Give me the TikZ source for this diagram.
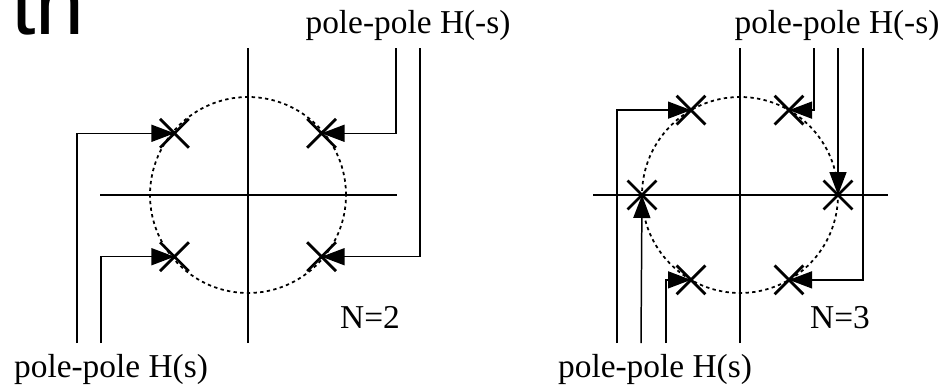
\documentclass[tikz,border=0pt]{standalone}
\usepackage{fontspec}
\setmainfont{Liberation Serif}
\newfontfamily\headfont{Liberation Sans}
\usetikzlibrary{positioning,arrows.meta,calc,shapes.misc}

\begin{document}
\begin{tikzpicture}[
  x=0.02cm, y=0.02cm,
  font=\fontsize{19}{22}\selectfont,
  axis/.style={line width=0.85pt},
  polecircle/.style={line width=1pt, dash pattern=on 1.9pt off 1.9pt},
  pole/.style={cross out, draw, line width=1.6pt, minimum size=0.52cm, inner sep=0pt},
  arrow/.style={-{Triangle[length=0.46cm, width=0.34cm]}, line width=0.85pt},
  caption/.style={anchor=base, inner sep=0pt}
]
\useasboundingbox (0,0) rectangle (944,387);

% Cropped heading
\node[anchor=base west, inner sep=0pt, font=\headfont\fontsize{50}{56}\selectfont] (head) at (11,353) {th};

% ---- N=2 ----
\coordinate (o2) at (248,192);
\draw[axis] (o2) ++(-148,0) -- ++(297,0);
\draw[axis] (248,44) -- (248,339);
\draw[polecircle] (o2) circle (98);

% Poles
\node[pole] (p1) at ($(o2)+(140:96)$) {};
\node[pole] (p2) at ($(o2)+(40:96)$) {};
\node[pole] (p3) at ($(o2)+(220:96)$) {};
\node[pole] (p4) at ($(o2)+(320:96)$) {};

% Feed lines
\coordinate (a1) at (77,44);
\coordinate (a2) at (101,44);
\coordinate (b1) at (396,339);
\coordinate (b2) at (420,339);

\draw[arrow] (a1) |- (p1.center);
\draw[arrow] (a2) |- (p3.center);
\draw[arrow] (b1) |- (p2.center);
\draw[arrow] (b2) |- (p4.center);

% Labels
\node[caption] (hm2) at (408,354) {pole-pole H(-s)};
\node[caption] (hp2) at (111,10) {pole-pole H(s)};
\node[caption] (n2) at (370,59) {N=2};

% ---- N=3 ----
\coordinate (o3) at (740,192);
\draw[axis] (o3) ++(-147,0) -- ++(295,0);
\draw[axis] (740,44) -- (740,339);
\draw[polecircle] (o3) circle (98);

% Poles
\node[pole] (q1) at ($(o3)+(120:98)$) {};
\node[pole] (q2) at ($(o3)+(60:98)$) {};
\node[pole] (q3) at ($(o3)+(180:98)$) {};
\node[pole] (q4) at ($(o3)+(0:98)$) {};
\node[pole] (q5) at ($(o3)+(240:98)$) {};
\node[pole] (q6) at ($(o3)+(300:98)$) {};

% Feed lines
\coordinate (c1) at (617,44);
\coordinate (c2) at (641,44);
\coordinate (c3) at (666,44);
\coordinate (d1) at (814,339);
\coordinate (d2) at (838,339);
\coordinate (d3) at (863,339);

\draw[arrow] (c1) |- (q1.center);
\draw[arrow] (c2) -- (q3.center);
\draw[arrow] (c3) |- (q5.center);
\draw[arrow] (d1) |- (q2.center);
\draw[arrow] (d2) -- (q4.center);
\draw[arrow] (d3) |- (q6.center);

% Labels
\node[caption] (hm3) at (837,354) {pole-pole H(-s)};
\node[caption] (hp3) at (655,10) {pole-pole H(s)};
\node[caption] (n3) at (840,59) {N=3};

\end{tikzpicture}
\end{document}
